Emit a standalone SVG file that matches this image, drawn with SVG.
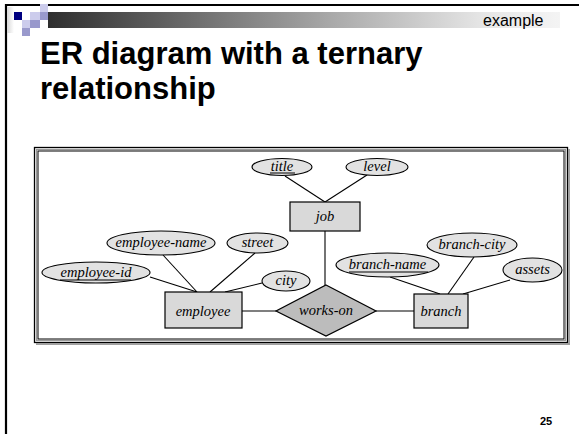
<svg xmlns="http://www.w3.org/2000/svg" width="579" height="434" viewBox="0 0 579 434">
  <defs>
    <linearGradient id="barGrad" x1="0" y1="0" x2="1" y2="0">
      <stop offset="0" stop-color="#2e2e2e"/>
      <stop offset="0.55" stop-color="#a8a8a8"/>
      <stop offset="0.85" stop-color="#e6e6e6"/>
      <stop offset="1" stop-color="#f4f4f4"/>
    </linearGradient>
    <linearGradient id="edgeGrad" x1="0" y1="0" x2="1" y2="0">
      <stop offset="0" stop-color="#d8d8d8"/>
      <stop offset="1" stop-color="#ffffff"/>
    </linearGradient>
  </defs>
  <style>
    .title { font-family: "Liberation Sans", Arial, sans-serif; font-weight: bold; font-size: 31px; fill: #000; }
    .tag { font-family: "Liberation Sans", Arial, sans-serif; font-size: 16px; fill: #000; }
    .page { font-family: "Liberation Sans", Arial, sans-serif; font-weight: bold; font-size: 11px; fill: #000; }
    .entity { fill: #d9d9d9; stroke: #000; stroke-width: 1.2; }
    .attr { fill: #e2e2e2; stroke: #000; stroke-width: 1.1; }
    .rel { fill: #bcbcbc; stroke: #000; stroke-width: 1.2; }
    .lbl { font-family: "Liberation Serif", "Times New Roman", serif; font-style: italic; font-size: 14.5px; fill: #000; text-anchor: middle; }
    .key { text-decoration: underline; }
    .conn line { stroke: #000; stroke-width: 1.1; }
    .ul { stroke: #000; stroke-width: 1; }
  </style>

  <!-- slide background and frame -->
  <rect x="0" y="0" width="579" height="434" fill="#fff"/>
  <line x1="5" y1="5" x2="579" y2="5" stroke="#000" stroke-width="2"/>
  <line x1="6" y1="4" x2="6" y2="434" stroke="#000" stroke-width="2.2"/>
  <rect x="7" y="7" width="7" height="26" fill="url(#edgeGrad)"/>

  <!-- header decoration -->
  <rect x="48" y="12" width="512" height="16" fill="url(#barGrad)"/>
  <rect x="40" y="4" width="8" height="8" fill="#ccccec"/>
  <rect x="14" y="12" width="8" height="8" fill="#000080"/>
  <rect x="30" y="12" width="10" height="8" fill="#ccccec"/>
  <rect x="40" y="12" width="8" height="8" fill="#9999cc"/>
  <rect x="22" y="20" width="8" height="8" fill="#ccccec"/>
  <rect x="30" y="20" width="10" height="8" fill="#9999cc"/>
  <rect x="22" y="28" width="8" height="8" fill="#9999cc"/>
  <text class="tag" x="483" y="26">example</text>

  <text class="title" x="40" y="64">ER diagram with a ternary</text>
  <text class="title" x="40" y="99">relationship</text>

  <text class="page" x="540" y="425">25</text>

  <!-- figure frame -->
  <rect x="34.5" y="147.5" width="533" height="195" fill="#fff" stroke="#000" stroke-width="1.3"/>
  <rect x="36.5" y="149.5" width="529" height="191" fill="none" stroke="#999" stroke-width="1.2"/>
  <rect x="38" y="151" width="526" height="188" fill="none" stroke="#000" stroke-width="1"/>
  <polyline points="569,149 569,344 36,344" fill="none" stroke="#a0a0a0" stroke-width="2"/>

  <!-- connectors -->
  <g id="connectors" class="conn">
    <line x1="285" y1="176" x2="325" y2="202"/>
    <line x1="367" y1="175" x2="325" y2="202"/>
    <line x1="325" y1="231" x2="325" y2="285"/>
    <line x1="242" y1="311" x2="276" y2="311"/>
    <line x1="376" y1="311" x2="414" y2="311"/>
    <line x1="150" y1="277" x2="197" y2="292"/>
    <line x1="163" y1="255" x2="197" y2="292"/>
    <line x1="255" y1="253" x2="210" y2="292"/>
    <line x1="262" y1="283" x2="225" y2="292"/>
    <line x1="390" y1="277" x2="440" y2="294"/>
    <line x1="474" y1="257" x2="448" y2="294"/>
    <line x1="510" y1="280" x2="463" y2="294"/>
  </g>

  <!-- entities -->
  <g id="job">
    <rect class="entity" x="290" y="202" width="70" height="29"/>
    <text class="lbl" x="325" y="221">job</text>
  </g>
  <g id="employee">
    <rect class="entity" x="165" y="292" width="77" height="36"/>
    <text class="lbl" x="203" y="316">employee</text>
  </g>
  <g id="branch">
    <rect class="entity" x="414" y="294" width="54" height="34"/>
    <text class="lbl" x="441" y="316">branch</text>
  </g>

  <!-- relationship -->
  <g id="works-on">
    <polygon class="rel" points="326,285 376,311 326,336 276,311"/>
    <text class="lbl" x="326" y="315">works-on</text>
  </g>

  <!-- attributes -->
  <g id="attr-title">
    <ellipse class="attr" cx="282" cy="167" rx="30" ry="8.5"/>
    <text class="lbl" x="282" y="171">title</text>
    <line class="ul" x1="270" y1="173" x2="295" y2="173"/>
  </g>
  <g id="attr-level">
    <ellipse class="attr" cx="377" cy="167" rx="31" ry="8.5"/>
    <text class="lbl" x="377" y="171">level</text>
  </g>
  <g id="attr-employee-id">
    <ellipse class="attr" cx="96" cy="272.5" rx="54" ry="10.5"/>
    <text class="lbl" x="96" y="277">employee-id</text>
    <line class="ul" x1="60" y1="280" x2="131" y2="280"/>
  </g>
  <g id="attr-employee-name">
    <ellipse class="attr" cx="161" cy="243" rx="54" ry="12"/>
    <text class="lbl" x="161" y="247">employee-name</text>
  </g>
  <g id="attr-street">
    <ellipse class="attr" cx="257.5" cy="243" rx="30.5" ry="10"/>
    <text class="lbl" x="257.5" y="247">street</text>
  </g>
  <g id="attr-city">
    <ellipse class="attr" cx="286" cy="281" rx="24" ry="10"/>
    <text class="lbl" x="286" y="285">city</text>
  </g>
  <g id="attr-branch-name">
    <ellipse class="attr" cx="387.5" cy="265" rx="51.5" ry="12"/>
    <text class="lbl" x="387.5" y="269">branch-name</text>
    <line class="ul" x1="349" y1="272" x2="428" y2="272"/>
  </g>
  <g id="attr-branch-city">
    <ellipse class="attr" cx="472" cy="245" rx="45" ry="12"/>
    <text class="lbl" x="472" y="249">branch-city</text>
  </g>
  <g id="attr-assets">
    <ellipse class="attr" cx="532.5" cy="270" rx="29.5" ry="12"/>
    <text class="lbl" x="532.5" y="274">assets</text>
  </g>
</svg>
